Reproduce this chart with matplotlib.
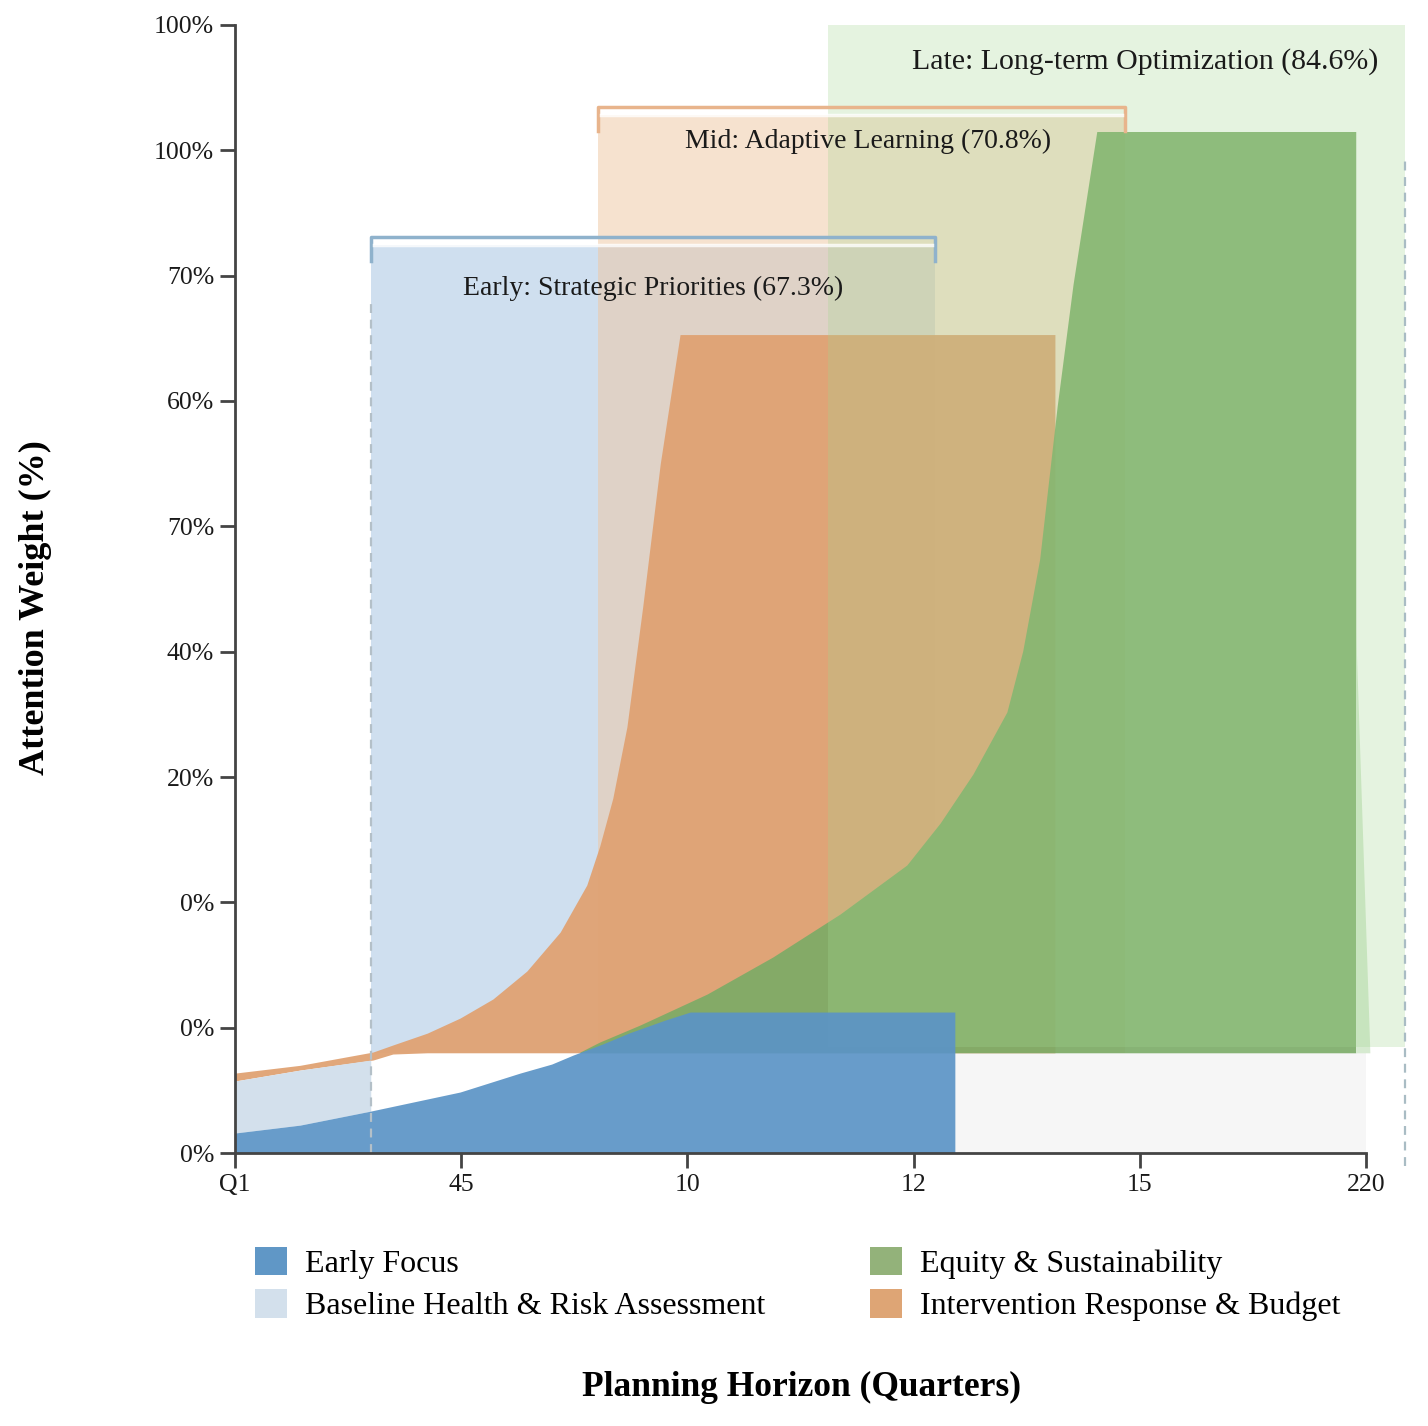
import matplotlib.pyplot as plt
from matplotlib.patches import Patch

plt.rcParams['font.family'] = ['Liberation Serif', 'DejaVu Serif']

# axis ticks (labels as printed on the chart)
x_ticks = [0, 4, 8, 12, 16, 20]
x_ticklabels = ['Q1', '45', '10', '12', '15', '220']
y_ticks = [0, 10, 20, 30, 40, 50, 60, 70, 80, 90]
y_ticklabels = ['0%', '0%', '0%', '20%', '40%', '70%', '60%', '70%', '100%', '100%']

# Early Focus (blue)
early_x = [0, 1.15, 2.4, 3.98, 5.04, 5.6, 5.98, 6.5, 6.98, 7.6, 8.05, 12.73]
early_y = [1.6, 2.23, 3.35, 4.87, 6.38, 7.1, 7.82, 8.7, 9.6, 10.6, 11.25, 11.25]

# Baseline Health & Risk Assessment (light blue strip)
baseline_x = [0, 1.15, 2.4]
baseline_lo = [1.6, 2.23, 3.35]
baseline_hi = [5.75, 6.62, 7.42]

# Intervention Response & Budget (orange)
interv_x = [0, 1.15, 2.44, 2.79, 3.4, 3.98, 4.56, 5.16, 5.75, 6.22, 6.45,
            6.68, 6.93, 7.21, 7.52, 7.87, 14.5]
interv_lo = [5.75, 6.62, 7.42, 7.9, 8.0, 8.0, 8.0, 8.0, 8.0, 8.0, 8.0,
             8.0, 8.0, 8.0, 8.0, 8.0, 8.0]
interv_hi = [6.38, 7.0, 8.06, 8.62, 9.57, 10.77, 12.29, 14.52, 17.63, 21.38, 24.5,
             28.3, 34.0, 43.6, 55.0, 65.3, 65.3]

# Equity & Sustainability (green)
equity_x = [6.1, 6.45, 7.16, 8.35, 9.51, 10.7, 11.88, 12.47, 13.05, 13.65,
            13.93, 14.23, 14.54, 14.82, 15.24, 19.82]
equity_lo = [8.0] * len(equity_x)
equity_hi = [8.06, 8.86, 10.21, 12.69, 15.64, 19.07, 22.98, 26.33, 30.24, 35.19,
             40.05, 47.39, 59.6, 69.3, 81.5, 81.5]
# faint tail on the right edge of the green area
equity_tail_x = [19.82, 20.07]
equity_tail_hi = [41.5, 8.0]

# phase bands
phase_labels = ['Early: Strategic Priorities (67.3%)',
                'Mid: Adaptive Learning (70.8%)',
                'Late: Long-term Optimization (84.6%)']
phase_start = [2.4, 6.42, 10.49]
phase_end = [12.38, 15.74, 20.69]
phase_bottom = [8.0, 8.0, 8.46]
phase_top = [72.45, 82.8, 90.0]
phase_text_x = [7.39, 11.19, 16.09]
phase_text_y = [69.0, 80.7, 87.05]
phase_text_size = [20, 20, 21.5]

series_names = ['Early Focus', 'Baseline Health & Risk Assessment',
                'Equity & Sustainability', 'Intervention Response & Budget']
series_colors = ['#6097c6', '#d3e0ec', '#93b27a', '#dea575']

fig = plt.figure(figsize=(14.28, 14.26), dpi=100)
ax = fig.add_axes([0.1646, 0.1914, 0.8236, 0.7911])

# bands drawn under the series: early then mid
ax.fill_between([phase_start[0], phase_end[0]], phase_bottom[0], phase_top[0],
                color='#a9c6e2', alpha=0.55, lw=0, zorder=1)
ax.fill_between([phase_start[1], phase_end[1]], phase_bottom[1], phase_top[1],
                color='#efc7a0', alpha=0.5, lw=0, zorder=1.1)

# light grey strip under the late region
ax.fill_between([early_x[-1], 20], 0, 8.0, color='#f6f6f6', lw=0, zorder=0.5)

ax.fill_between(interv_x, interv_lo, interv_hi, color='#e0a273', alpha=0.95, lw=0, zorder=2)
ax.fill_between(baseline_x, baseline_lo, baseline_hi, color='#d3e0ec', lw=0, zorder=2)
ax.fill_between(equity_x, equity_lo, equity_hi, color='#7aab66', alpha=0.9, lw=0, zorder=3)
ax.fill_between(equity_tail_x, 8.0, equity_tail_hi, color='#d6ead0', lw=0, zorder=3)

# late band on top
ax.fill_between([phase_start[2], phase_end[2]], phase_bottom[2], phase_top[2],
                color='#a2d690', alpha=0.28, lw=0, zorder=3.5)

ax.fill_between(early_x, 0, early_y, color='#5b94c6', alpha=0.92, lw=0, zorder=4)

# brackets on top of early and mid bands
bracket_colors = ['#8fb2cc', '#e8b48c']
for i in range(2):
    x0, x1, top = phase_start[i], phase_end[i], phase_top[i]
    ax.plot([x0, x0, x1, x1], [top - 1.3, top + 0.65, top + 0.65, top - 1.3],
            color=bracket_colors[i], lw=2.5, zorder=5, solid_joinstyle='round')
    ax.plot([x0 + 0.05, x1 - 0.05], [top, top], color='white', lw=2.5, zorder=5, alpha=0.8)

for i in range(3):
    ax.text(phase_text_x[i], phase_text_y[i], phase_labels[i], ha='center', va='center',
            fontsize=phase_text_size[i], color='#1a1a1a', zorder=6)

# dashed guides
ax.plot([phase_start[0], phase_start[0]], [0, 67.7], ls=(0, (4, 3)), color='#b4c0c8',
        lw=1.6, zorder=4.5)
ax.plot([phase_end[2], phase_end[2]], [-1, 79.6], ls=(0, (4, 3)), color='#a9bcc4',
        lw=1.6, zorder=4.5, clip_on=False)

ax.set_xlim(0, 20.8)
ax.set_ylim(0, 90)
for s in ['top', 'right']:
    ax.spines[s].set_visible(False)
ax.spines['bottom'].set_bounds(0, 20)
for s in ['left', 'bottom']:
    ax.spines[s].set_color('#444444')
    ax.spines[s].set_linewidth(2)
    ax.spines[s].set_zorder(7)
ax.set_xticks(x_ticks)
ax.set_xticklabels(x_ticklabels)
ax.set_yticks(y_ticks)
ax.set_yticklabels(y_ticklabels)
ax.tick_params(axis='both', length=11, width=2, color='#444444', labelsize=18.5,
               labelcolor='#1a1a1a', pad=4)

fig.text(0.025, 0.574, 'Attention Weight (%)', rotation=90, ha='center', va='center',
         fontsize=26, fontweight='bold')
fig.text(0.561, 0.027, 'Planning Horizon (Quarters)', ha='center', va='center',
         fontsize=25.5, fontweight='bold')

handles = [Patch(facecolor=c, edgecolor='none') for c in series_colors]
fig.legend(handles, series_names, loc='upper left', bbox_to_anchor=(0.1675, 0.137),
           ncol=2, frameon=False, fontsize=23, handlelength=1.0, handleheight=1.0,
           handletextpad=0.55, columnspacing=3.3, labelspacing=0.32, borderpad=0)

fig.savefig('out.png', dpi=100)
